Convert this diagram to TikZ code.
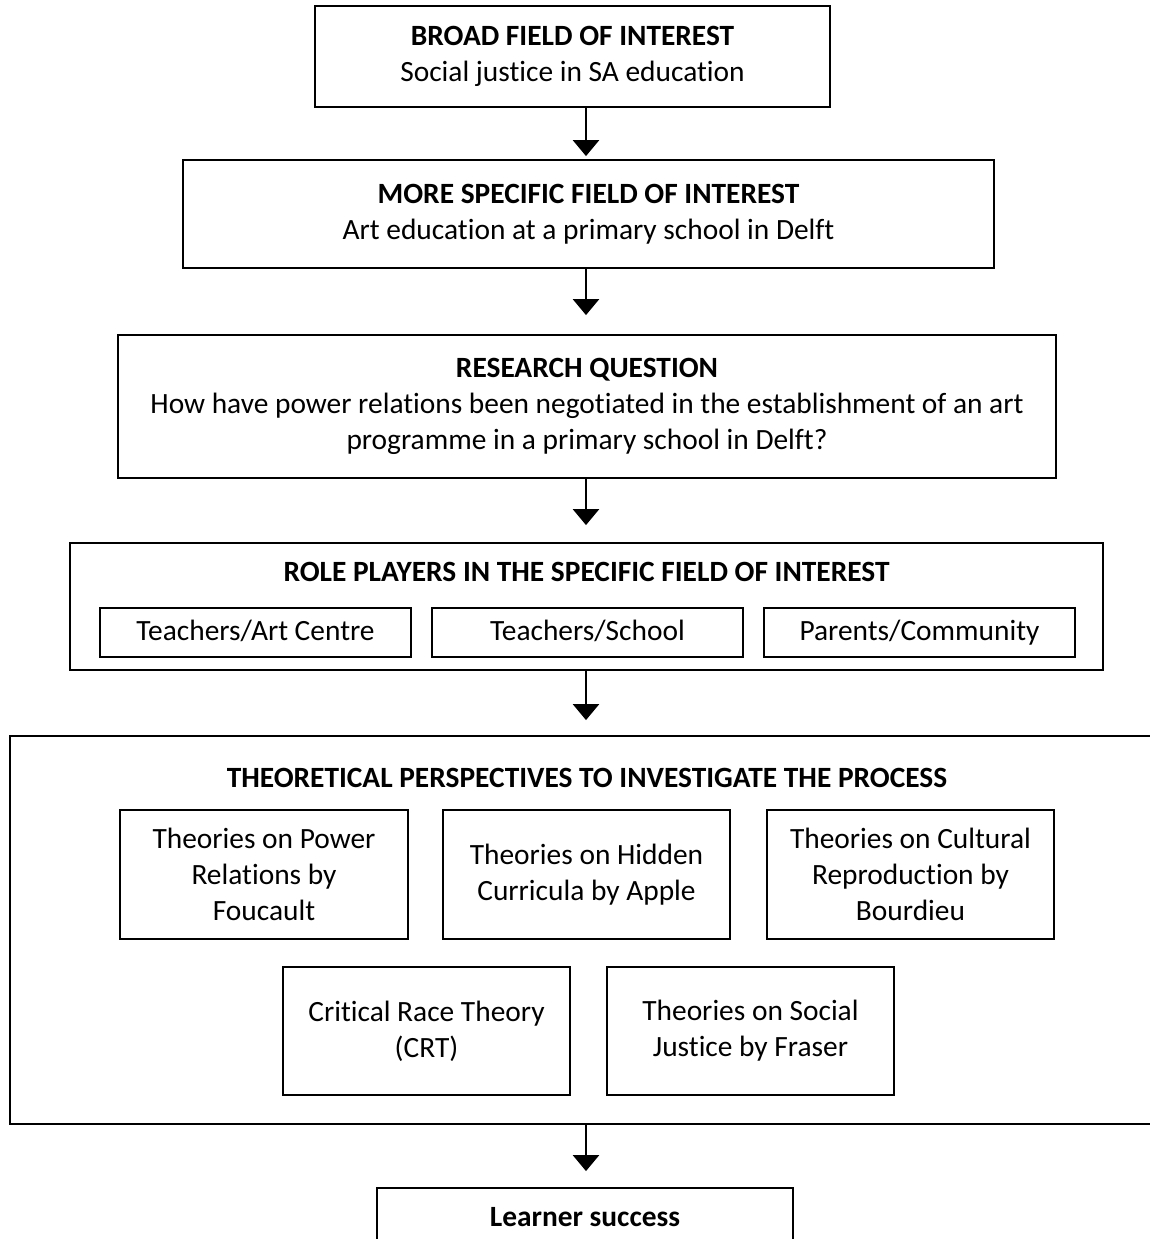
\documentclass[tikz,border=0pt]{standalone}
\usepackage{fontspec}
\setmainfont{Carlito}[Ligatures=NoCommon]
\usepackage{tikz}
\usetikzlibrary{positioning,calc,arrows.meta}

\tikzset{
    box/.style={draw, line width=0.9pt, align=center, inner sep=0pt},
    subbox/.style={box, minimum height=24.5pt, text height=10.5pt, text depth=2.5pt},
    title/.style={font=\fontsize{14.7}{18}\selectfont\bfseries},
    arr/.style={line width=1.3pt, -{Triangle[width=13pt,length=8pt]}}
}

\begin{document}
\begin{tikzpicture}[x=0.5pt, y=-0.5pt, font=\fontsize{14.7}{18}\selectfont]
    \useasboundingbox (0,0) rectangle (1150,1239);
    \coordinate (axis) at (586,0);

    \node[box, minimum width=257.5pt, minimum height=50.5pt] (broad) at (572.5,56.5)
        {\textbf{BROAD FIELD OF INTEREST}\\Social justice in SA education};
    \node[box, minimum width=405.5pt, minimum height=54pt] (specific) at (588.5,214)
        {\textbf{MORE SPECIFIC FIELD OF INTEREST}\\Art education at a primary school in Delft};
    \node[box, minimum width=469pt, minimum height=71.5pt] (question) at (587,406.5)
        {\textbf{RESEARCH QUESTION}\\How have power relations been negotiated in the establishment of an art\\programme in a primary school in Delft?};

    % role players
    \node[box, minimum width=516.5pt, minimum height=63.5pt] (roles) at (586.5,606.5) {};
    \node[title] (rolestitle) at (586.5,572) {ROLE PLAYERS IN THE SPECIFIC FIELD OF INTEREST};
    \node[subbox, minimum width=155.5pt] (artcentre) at (255.5,632.5) {Teachers/Art Centre};
    \node[subbox, minimum width=155.5pt] (school) at (587.5,632.5) {Teachers/School};
    \node[subbox, minimum width=155.5pt] (parents) at (919.5,632.5) {Parents/Community};

    % theoretical perspectives
    \node[box, minimum width=577pt, minimum height=194pt] (theories) at (587,930) {};
    \node[title] (theorytitle) at (587,778) {THEORETICAL PERSPECTIVES TO INVESTIGATE THE PROCESS};
    \node[box, minimum width=144pt, minimum height=64.5pt] (foucault) at (264,874.5)
        {Theories on Power\\Relations by\\Foucault};
    \node[box, minimum width=143.5pt, minimum height=64.5pt] (apple) at (586.5,874.5)
        {Theories on Hidden\\Curricula by Apple};
    \node[box, minimum width=143.5pt, minimum height=64.5pt] (bourdieu) at (910.5,874.5)
        {Theories on Cultural\\Reproduction by\\Bourdieu};
    \node[box, minimum width=143.5pt, minimum height=64pt] (crt) at (426.5,1031)
        {Critical Race Theory\\(CRT)};
    \node[box, minimum width=143.5pt, minimum height=64pt] (fraser) at (750.5,1031)
        {Theories on Social\\Justice by Fraser};

    \node[box, minimum width=208pt, minimum height=29pt] (success) at (585,1217)
        {\textbf{Learner success}};

    \draw[arr, shorten >=1.5pt] (broad.south -| axis) -- (specific.north -| axis);
    \draw[arr, shorten >=9.5pt] (specific.south -| axis) -- (question.north -| axis);
    \draw[arr, shorten >=8.5pt] (question.south -| axis) -- (roles.north -| axis);
    \draw[arr, shorten >=7.5pt] (roles.south -| axis) -- (theories.north -| axis);
    \draw[arr, shorten >=8pt] (theories.south -| axis) -- (success.north -| axis);
\end{tikzpicture}
\end{document}
